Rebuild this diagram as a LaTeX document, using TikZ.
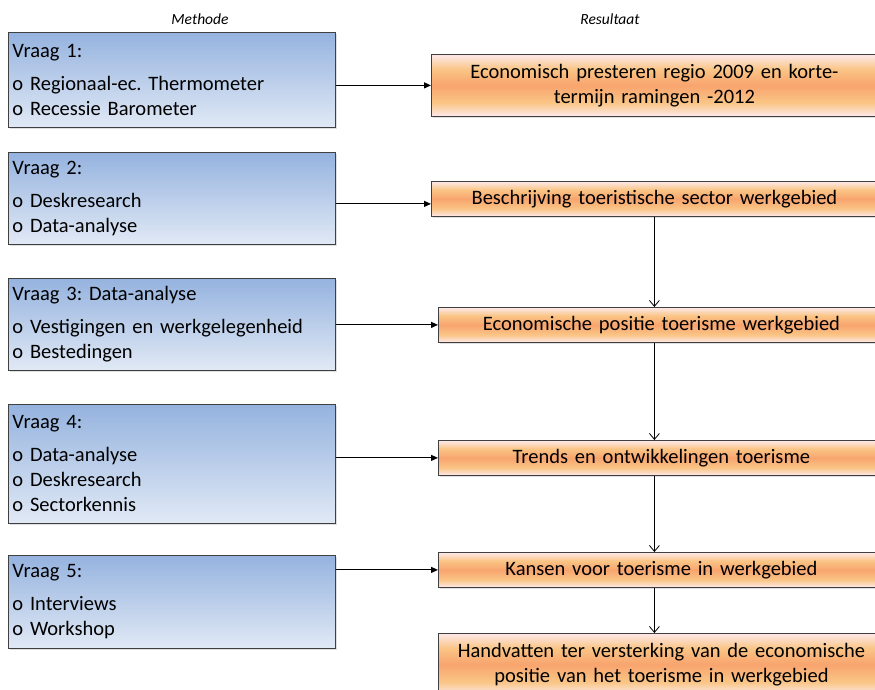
\documentclass[tikz,border=0pt]{standalone}
\usepackage{fontspec}
\setmainfont{Carlito}
\frenchspacing
\usetikzlibrary{arrows.meta,shadows}

\definecolor{methtop}{HTML}{95B3DF}
\definecolor{methbot}{HTML}{E1E9F5}
\definecolor{respale}{HTML}{FDE6E2}
\definecolor{resyel}{HTML}{FAC585}
\definecolor{resorg}{HTML}{F8A46E}
\definecolor{framegray}{HTML}{404040}
\pgfdeclareverticalshading{resfade}{100bp}{color(0bp)=(respale); color(26bp)=(respale); color(36bp)=(resyel); color(50bp)=(resorg); color(63bp)=(resyel); color(74bp)=(respale); color(100bp)=(respale)}

\begin{document}
\begin{tikzpicture}[x=1pt,y=-1pt,
  colhead/.style={font=\fontsize{15.5}{18}\selectfont\itshape},
  methodbox/.style={draw=framegray, line width=0.8pt, top color=methtop, bottom color=methbot,
    anchor=north west, minimum width=327pt, text width=319pt, inner xsep=4pt, inner ysep=0pt,
    align=left, font=\fontsize{20.5}{25}\selectfont,
    drop shadow={opacity=0.25, shadow xshift=1.2pt, shadow yshift=-1.2pt}},
  resultbox/.style={draw=framegray, line width=0.8pt, shading=resfade,
    anchor=north west, minimum width=446pt, minimum height=35pt, text width=436pt, inner sep=0pt,
    align=center, font=\fontsize{20.5}{25.5}\selectfont,
    drop shadow={opacity=0.25, shadow xshift=1.2pt, shadow yshift=-1.2pt}},
  harrow/.style={-{Triangle[length=7pt,width=6pt]}, line width=1.1pt},
  varrow/.style={-{Straight Barb[length=6pt,width=10pt]}, line width=0.8pt}]
\useasboundingbox (0,0) rectangle (875,689);
\clip (0,0) rectangle (875,689);

% kolomkoppen
\node[colhead] (mhead) at (200,19) {Methode};
\node[colhead] (rhead) at (610,19) {Resultaat};

% methode per vraag
\node[methodbox, minimum height=95pt] (v1) at (8,32) {Vraag 1:\\[8pt] o Regionaal-ec. Thermometer\\ o Recessie Barometer};
\node[methodbox, minimum height=92pt] (v2) at (8,152) {Vraag 2:\\[8pt] o Deskresearch\\ o Data-analyse};
\node[methodbox, minimum height=92pt] (v3) at (8,278) {Vraag 3: Data-analyse\\[8pt] o Vestigingen en werkgelegenheid\\ o Bestedingen};
\node[methodbox, minimum height=119pt] (v4) at (8,404) {Vraag 4:\\[8pt] o Data-analyse\\ o Deskresearch\\ o Sectorkennis};
\node[methodbox, minimum height=93pt] (v5) at (8,555) {Vraag 5:\\[8pt] o Interviews\\ o Workshop};

% resultaten
\node[resultbox, minimum height=62pt] (r1) at (431,54) {Economisch presteren regio 2009 en korte-\\termijn ramingen -2012};
\node[resultbox] (r2) at (431,181) {Beschrijving toeristische sector werkgebied};
\node[resultbox] (r3) at (438,307) {Economische positie toerisme werkgebied};
\node[resultbox] (r4) at (438,440) {Trends en ontwikkelingen toerisme};
\node[resultbox] (r5) at (438,552) {Kansen voor toerisme in werkgebied};
\node[resultbox, minimum height=62pt] (r6) at (438,633) {Handvatten ter versterking van de economische\\positie van het toerisme in werkgebied};

% pijlen methode -> resultaat
\coordinate (r2in) at ([yshift=-5pt]r2.west);
\draw[harrow] (v1.east |- r1.west) -- (r1.west);
\draw[harrow] (r2in -| v2.east) -- (r2in);
\draw[harrow] (v3.east |- r3.west) -- (r3.west);
\draw[harrow] (v4.east |- r4.west) -- (r4.west);
\draw[harrow] (v5.east |- r5.west) -- (r5.west);

% pijlen tussen resultaten
\draw[varrow] (r2.south) -- (r2.south |- r3.north);
\draw[varrow] (r3.south -| r2.south) -- (r2.south |- r4.north);
\draw[varrow] (r4.south -| r2.south) -- (r2.south |- r5.north);
\draw[varrow] (r5.south -| r2.south) -- (r2.south |- r6.north);
\end{tikzpicture}
\end{document}
